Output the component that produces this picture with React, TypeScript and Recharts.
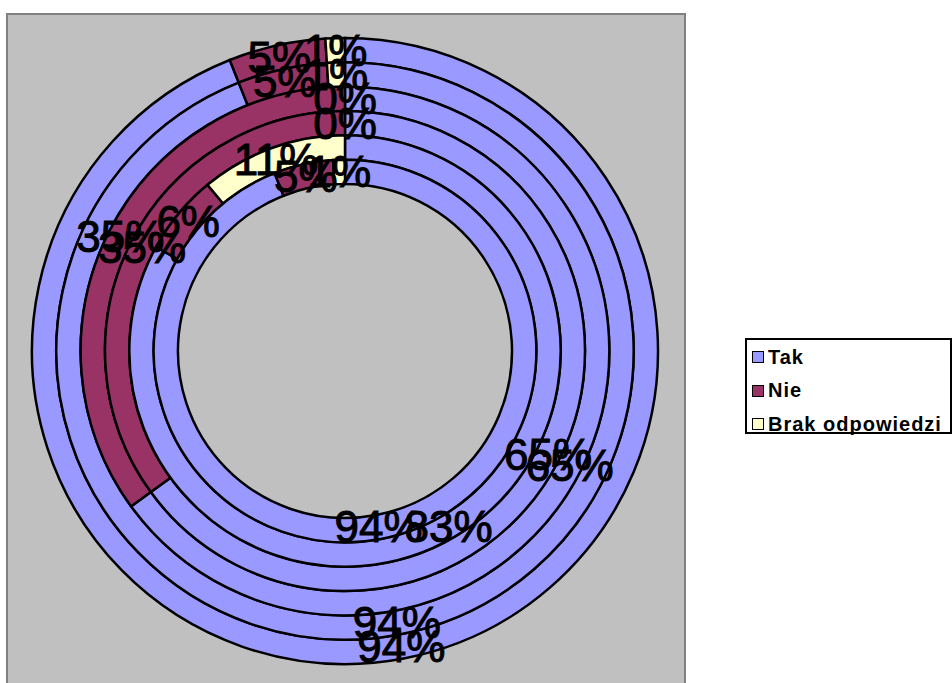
import React from "react";
import { PieChart, Pie, Cell, Legend } from "recharts";

// answers, outermost ring first
const categories = ["Tak", "Nie", "Brak odpowiedzi"];
const ring1 = [94, 5, 1];
const ring2 = [94, 5, 1];
const ring3 = [65, 35, 0];
const ring4 = [65, 35, 0];
const ring5 = [83, 6, 11];
const ring6 = [94, 5, 1];
const rings = [ring1, ring2, ring3, ring4, ring5, ring6];

const colors = ["#9999ff", "#993366", "#ffffcc"];

const CX = 345;
const CY = 351;
const OUTER = 313;
const INNER = 167;
const STEP = (OUTER - INNER) / rings.length;
const RAD = Math.PI / 180;

const toData = (vals: number[]) =>
    vals.map((v, i) => ({ name: categories[i], value: v }));

const renderLabel = (props: any) => {
    const { cx, cy, midAngle, innerRadius, outerRadius, value } = props;
    const r = (innerRadius + outerRadius) / 2;
    const x = cx + r * Math.cos(-midAngle * RAD);
    const y = cy + r * Math.sin(-midAngle * RAD);
    return (
        <text
            x={x}
            y={y}
            textAnchor="middle"
            dominantBaseline="central"
            fontFamily="'Liberation Sans', Arial, sans-serif"
            fontSize={44}
            fill="#000"
            stroke="#000"
            strokeWidth={1}
        >
            {value + "%"}
        </text>
    );
};

const renderLegend = () => (
    <div
        style={{
            width: 203,
            height: 92,
            border: "2px solid #000",
            background: "#fff",
            fontFamily: "'Liberation Sans', Arial, sans-serif",
            fontWeight: "bold",
            fontSize: 20,
            letterSpacing: "1px",
        }}
    >
        {categories.map((c, i) => (
            <div
                key={c}
                style={{
                    position: "absolute",
                    left: 7,
                    top: 9 + i * 33.5,
                    display: "flex",
                    alignItems: "center",
                    height: 20,
                    whiteSpace: "nowrap",
                }}
            >
                <span
                    style={{
                        display: "inline-block",
                        width: 10,
                        height: 10,
                        background: colors[i],
                        border: "1.5px solid #000",
                        marginRight: 4,
                    }}
                />
                {c}
            </div>
        ))}
    </div>
);

const App: React.FunctionComponent = () => {
    return (
        <div style={{ position: "absolute", left: 0, top: 0, width: 952, height: 683, overflow: "hidden" }}>
            <div
                style={{
                    position: "absolute",
                    left: 6,
                    top: 13,
                    width: 676,
                    height: 700,
                    background: "#c0c0c0",
                    border: "2px solid #808080",
                }}
            />
            <div style={{ position: "absolute", left: 0, top: 0 }}>
                <PieChart width={952} height={683} margin={{ top: 0, right: 0, bottom: 0, left: 0 }}>
                    {rings.map((vals, k) => (
                        <Pie
                            key={"ring" + k}
                            data={toData(vals)}
                            dataKey="value"
                            cx={CX}
                            cy={CY}
                            startAngle={90}
                            endAngle={-270}
                            outerRadius={OUTER - k * STEP}
                            innerRadius={OUTER - (k + 1) * STEP}
                            stroke="#000"
                            strokeWidth={2.5}
                            isAnimationActive={false}
                        >
                            {vals.map((_, i) => (
                                <Cell key={i} fill={colors[i]} />
                            ))}
                        </Pie>
                    ))}
                    {rings.map((vals, k) => (
                        <Pie
                            key={"lab" + k}
                            data={toData(vals)}
                            dataKey="value"
                            cx={CX}
                            cy={CY}
                            startAngle={90}
                            endAngle={-270}
                            outerRadius={OUTER - k * STEP}
                            innerRadius={OUTER - (k + 1) * STEP}
                            fill="none"
                            stroke="none"
                            label={renderLabel}
                            labelLine={false}
                            legendType="none"
                            isAnimationActive={false}
                        />
                    ))}
                    <Legend
                        content={renderLegend}
                        wrapperStyle={{ position: "absolute", left: 745, top: 338, width: 207, height: 96 }}
                    />
                </PieChart>
            </div>
        </div>
    );
};

export default App;
